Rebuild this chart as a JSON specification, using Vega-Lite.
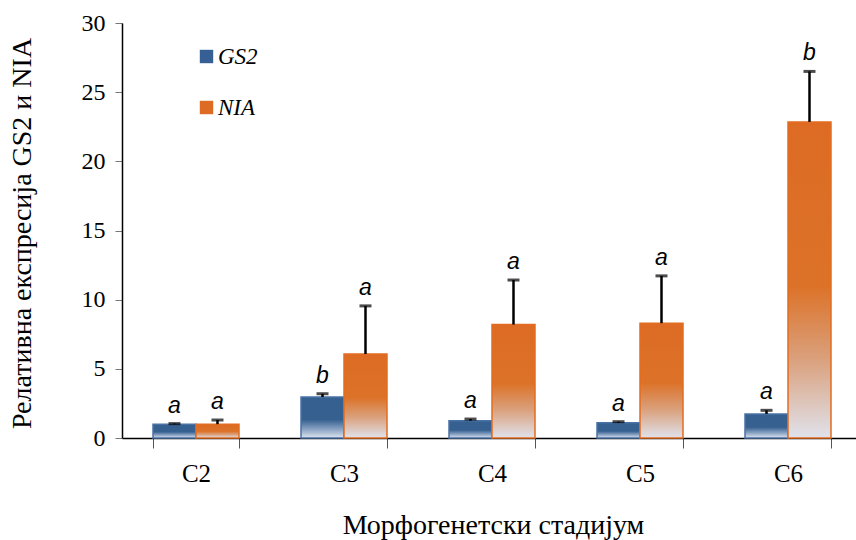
{
  "$schema": "https://vega.github.io/schema/vega-lite/v6.json",
  "width": 731,
  "height": 415,
  "autosize": {"type": "none"},
  "padding": {"left": 122, "top": 23, "right": 3, "bottom": 102},
  "background": "white",
  "config": {"view": {"stroke": null}, "font": "Liberation Serif"},
  "data": {
    "values": [
      {"stage": "C2", "gene": "GS2", "value": 1.0, "err": 1.04, "letter": "a"},
      {"stage": "C2", "gene": "NIA", "value": 1.0, "err": 1.3, "letter": "a"},
      {"stage": "C3", "gene": "GS2", "value": 2.96, "err": 3.2, "letter": "b"},
      {"stage": "C3", "gene": "NIA", "value": 6.07, "err": 9.55, "letter": "a"},
      {"stage": "C4", "gene": "GS2", "value": 1.25, "err": 1.37, "letter": "a"},
      {"stage": "C4", "gene": "NIA", "value": 8.2, "err": 11.42, "letter": "a"},
      {"stage": "C5", "gene": "GS2", "value": 1.1, "err": 1.18, "letter": "a"},
      {"stage": "C5", "gene": "NIA", "value": 8.3, "err": 11.72, "letter": "a"},
      {"stage": "C6", "gene": "GS2", "value": 1.74, "err": 2.0, "letter": "a"},
      {"stage": "C6", "gene": "NIA", "value": 22.85, "err": 26.5, "letter": "b"}
    ]
  },
  "encoding": {
    "x": {
      "field": "stage",
      "type": "nominal",
      "scale": {"range": [0, 740], "paddingInner": 0.419, "paddingOuter": 0.2095},
      "axis": {
        "title": "Морфогенетски стадијум",
        "titleFontSize": 28,
        "titleFontWeight": "normal",
        "titleColor": "black",
        "titleX": 371,
        "titleY": 87,
        "titleBaseline": "middle",
        "labelAngle": 0,
        "labelFontSize": 25,
        "labelColor": "black",
        "labelPadding": 13,
        "tickBand": "extent",
        "tickSize": 10,
        "tickColor": "#555",
        "domainColor": "black",
        "domainWidth": 1.5
      }
    },
    "xOffset": {
      "field": "gene",
      "type": "nominal",
      "scale": {"domain": ["GS2", "NIA"], "paddingInner": 0, "paddingOuter": 0}
    }
  },
  "layer": [
    {
      "mark": {"type": "bar"},
      "encoding": {
        "y": {
          "field": "value",
          "type": "quantitative",
          "scale": {"domain": [0, 30]},
          "axis": {
            "title": "Релативна експресија GS2 и NIA",
            "titleFontSize": 28,
            "titleFontWeight": "normal",
            "titleColor": "black",
            "titleX": -100,
            "titleY": 210,
            "titleAngle": -90,
            "titleAlign": "center",
            "titleBaseline": "middle",
            "values": [0, 5, 10, 15, 20, 25, 30],
            "grid": false,
            "labelFontSize": 24,
            "labelColor": "black",
            "labelPadding": 10,
            "tickSize": 7,
            "tickColor": "#777",
            "domainColor": "black",
            "domainWidth": 1.5
          }
        },
        "color": {
          "field": "gene",
          "type": "nominal",
          "scale": {"domain": ["GS2", "NIA"], "range": ["#366094", "#dd6b24"]},
          "legend": {
            "title": null,
            "orient": "none",
            "legendX": 73,
            "legendY": 22,
            "symbolType": "square",
            "symbolSize": 180,
            "symbolStrokeWidth": 0,
            "labelFontSize": 23,
            "labelFontStyle": "italic",
            "labelColor": "black",
            "labelOffset": 0,
            "rowPadding": 27
          }
        }
      }
    },
    {
      "transform": [{"filter": "datum.gene === 'GS2'"}],
      "mark": {
        "type": "bar",
        "fill": {
          "gradient": "linear", "x1": 0, "y1": 0, "x2": 0, "y2": 1,
          "stops": [
            {"offset": 0, "color": "#35608f"},
            {"offset": 0.55, "color": "#35608f"},
            {"offset": 0.8, "color": "#8ea6c6"},
            {"offset": 1, "color": "#e0e5f0"}
          ]
        },
        "stroke": "#4a72a6",
        "strokeWidth": 1.5
      },
      "encoding": {"y": {"field": "value", "type": "quantitative"}}
    },
    {
      "transform": [{"filter": "datum.gene === 'NIA'"}],
      "mark": {
        "type": "bar",
        "fill": {
          "gradient": "linear", "x1": 0, "y1": 0, "x2": 0, "y2": 1,
          "stops": [
            {"offset": 0, "color": "#dd6b24"},
            {"offset": 0.52, "color": "#dc7228"},
            {"offset": 0.75, "color": "#daa07c"},
            {"offset": 1, "color": "#e0e2ec"}
          ]
        },
        "stroke": "#e36c20",
        "strokeWidth": 1.5
      },
      "encoding": {"y": {"field": "value", "type": "quantitative"}}
    },
    {
      "mark": {"type": "rule", "color": "black", "strokeWidth": 2.5},
      "encoding": {
        "y": {"field": "value", "type": "quantitative"},
        "y2": {"field": "err"}
      }
    },
    {
      "mark": {"type": "tick", "color": "black", "size": 12, "thickness": 3},
      "encoding": {"y": {"field": "err", "type": "quantitative"}}
    },
    {
      "mark": {"type": "text", "font": "Liberation Sans", "fontStyle": "italic", "fontSize": 23, "dy": -11, "baseline": "alphabetic", "color": "black"},
      "encoding": {
        "y": {"field": "err", "type": "quantitative"},
        "text": {"field": "letter"}
      }
    }
  ]
}
